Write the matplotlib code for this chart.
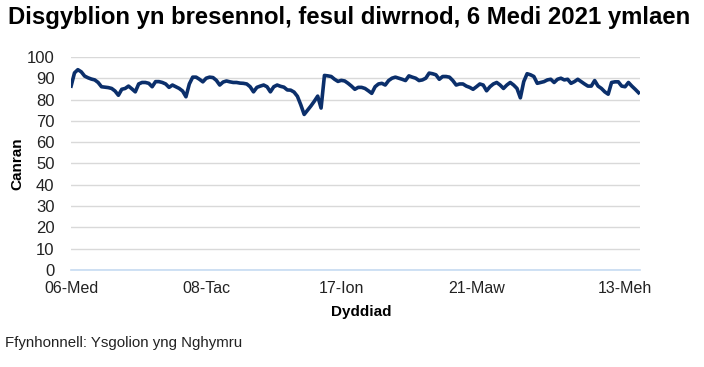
import matplotlib
matplotlib.use("Agg")
import matplotlib.pyplot as plt

# daily attendance (%), school days from 06-Med 2021 onward
attendance = [
    86.3, 92.5, 94.0, 93.0, 91.0, 90.2, 89.6, 89.2, 88.0, 86.0,
    85.8, 85.6, 85.2, 84.0, 82.0, 84.8, 85.2, 86.3, 85.0, 83.6,
    87.3, 88.0, 88.0, 87.6, 86.0, 88.4, 88.4, 88.0, 87.3, 85.7,
    86.8, 86.0, 85.2, 84.0, 81.3, 87.3, 90.5, 90.5, 89.5, 88.3,
    90.0, 90.5, 90.3, 89.0, 86.8, 88.2, 88.7, 88.3, 88.0, 88.0,
    87.7, 87.6, 87.3, 86.0, 83.6, 85.7, 86.3, 86.8, 86.0, 83.6,
    86.0, 86.8, 86.2, 85.8, 84.5, 84.4, 83.5, 81.5, 77.5, 73.0,
    75.0, 77.0, 79.2, 81.6, 76.0, 91.3, 91.1, 90.8, 89.5, 88.5,
    89.0, 88.7, 87.6, 86.3, 84.8, 85.7, 85.7, 85.2, 84.1, 82.9,
    86.0, 87.3, 87.6, 86.8, 88.9, 90.0, 90.5, 90.0, 89.5, 88.9,
    91.1, 90.5, 90.0, 88.9, 89.2, 90.0, 92.4, 92.1, 91.6, 89.5,
    90.8, 90.8, 90.5, 88.9, 86.8, 87.3, 87.3, 86.3, 85.7, 84.8,
    86.0, 87.3, 86.8, 84.1, 86.0, 87.3, 88.0, 86.8, 85.2, 86.8,
    88.0, 86.8, 85.2, 80.8, 88.4, 92.1, 91.6, 90.8, 87.6, 88.0,
    88.4, 89.2, 89.5, 88.0, 89.5, 90.0, 89.2, 89.5, 87.6, 88.4,
    89.5, 88.4, 87.3, 86.3, 86.3, 88.9, 86.3, 85.2, 83.6, 82.5,
    88.0, 88.3, 88.3, 86.3, 86.0, 88.0, 86.3, 84.8, 83.2,
]

tick_pos = [0, 40, 80, 120, 164]
tick_labels = ["06-Med", "08-Tac", "17-Ion", "21-Maw", "13-Meh"]
y_ticks = list(range(0, 101, 10))

plt.rcParams["font.family"] = ["Liberation Sans", "DejaVu Sans"]

fig = plt.figure(figsize=(7.04, 3.67), dpi=100)
ax = fig.add_axes([0.101, 0.264, 0.808, 0.581])

x = list(range(len(attendance)))
ax.plot(x, attendance, color="#0b2f6b", lw=2.6, solid_joinstyle="round", zorder=3)

ax.set_xlim(0, len(attendance) - 0.6)
ax.set_ylim(0, 100)
ax.set_yticks(y_ticks)
ax.set_xticks(tick_pos)
ax.set_xticklabels(tick_labels)
ax.tick_params(length=0, labelsize=11.5, colors="#222222")
ax.tick_params(axis="y", pad=12, labelsize=12)
ax.tick_params(axis="x", pad=8)
ax.grid(axis="y", color="#d9d9d9", lw=1)
ax.set_axisbelow(True)
for s in ("top", "right", "left"):
    ax.spines[s].set_visible(False)
ax.spines["bottom"].set_color("#c6dbf2")
ax.spines["bottom"].set_linewidth(1.2)

ax.set_ylabel("Canran", fontsize=11, fontweight="bold", labelpad=2)
ax.set_xlabel("Dyddiad", fontsize=11, fontweight="bold")
ax.xaxis.set_label_coords(0.51, -0.165)

fig.text(0.011, 0.953, "Disgyblion yn bresennol, fesul diwrnod, 6 Medi 2021 ymlaen",
         fontsize=17.2, fontweight="bold", va="center", ha="left")
fig.text(0.007, 0.065, "Ffynhonnell: Ysgolion yng Nghymru",
         fontsize=10.8, va="center", ha="left", color="#222222")

fig.savefig("out.png", dpi=100)
